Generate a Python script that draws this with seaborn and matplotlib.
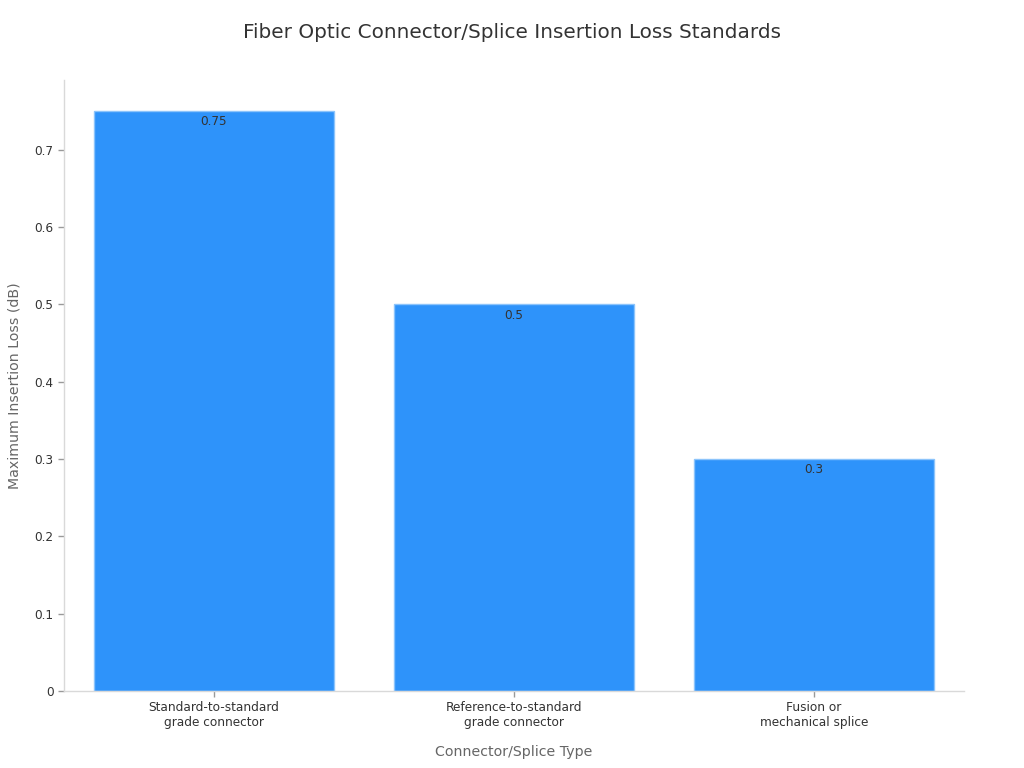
import matplotlib
matplotlib.use("Agg")
import matplotlib.pyplot as plt
import seaborn as sns
import pandas as pd

categories = ["Standard-to-standard\ngrade connector",
              "Reference-to-standard\ngrade connector",
              "Fusion or\nmechanical splice"]
values = [0.75, 0.5, 0.3]
yticks = [0, 0.1, 0.2, 0.3, 0.4, 0.5, 0.6, 0.7]
ytick_labels = ["0", "0.1", "0.2", "0.3", "0.4", "0.5", "0.6", "0.7"]

df = pd.DataFrame({"type": categories, "loss": values})

sns.set_theme(style="white")
plt.rcParams["font.family"] = ["DejaVu Sans"]

fig = plt.figure(figsize=(10.24, 7.68), dpi=100)
ax = fig.add_axes([0.0625, 0.1003, 0.8789, 0.7956])

sns.barplot(data=df, x="type", y="loss", color="#2E93FA", saturation=1,
            width=0.8, edgecolor="#8CC4FB", linewidth=1, ax=ax)

for c in ax.containers:
    ax.bar_label(c, labels=[f"{v:g}" for v in values], padding=-12.5,
                 fontsize=8.7, color="#333333")

ax.set_xlim(-0.5, 2.5)
ax.set_ylim(0, 0.79)
ax.set_yticks(yticks)
ax.set_yticklabels(ytick_labels)
ax.tick_params(axis="both", labelsize=8.7, colors="#333333", length=4,
               color="#999999", width=1, bottom=True, left=True)
for s in ["top", "right"]:
    ax.spines[s].set_visible(False)
for s in ["left", "bottom"]:
    ax.spines[s].set_color("#d9d9d9")
    ax.spines[s].set_linewidth(1)

ax.set_xlabel("Connector/Splice Type", fontsize=10.2, color="#666666", labelpad=11)
ax.set_ylabel("Maximum Insertion Loss (dB)", fontsize=10.2, color="#666666", labelpad=9)
fig.suptitle("Fiber Optic Connector/Splice Insertion Loss Standards",
             fontsize=14.4, color="#333333", y=0.97)

fig.savefig("out.png", dpi=100)
